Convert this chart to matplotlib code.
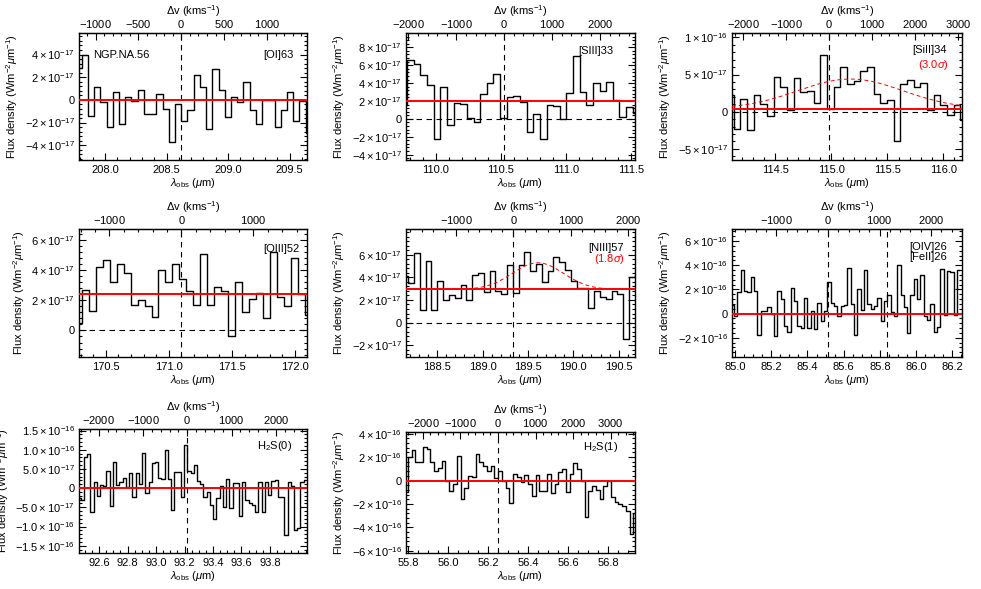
import numpy as np
import matplotlib.pyplot as plt
from matplotlib.ticker import FixedLocator, AutoMinorLocator, FuncFormatter, MultipleLocator

plt.rcParams['font.family'] = ['Liberation Sans', 'DejaVu Sans']
plt.rcParams['mathtext.fontset'] = 'custom'
plt.rcParams['mathtext.rm'] = 'Liberation Sans'
plt.rcParams['mathtext.it'] = 'Liberation Sans:italic'
plt.rcParams['mathtext.bf'] = 'Liberation Sans:bold'
plt.rcParams['font.size'] = 8

C_KMS = 299792.458

# --- espectros (flujo en 1e-17 o 1e-16 W m^-2 um^-1), rejilla regular en lambda ---
oi63_flux = np.array([2.8, 4.0, -1.4, 1.1, -0.2, -2.4, 0.7, -2.1, 0.3, -0.1, 0.9, -1.2, -1.2,
                      0.5, -0.8, -3.7, -0.4, -1.9, -0.9, 2.2, 1.1, -2.6, 2.7, 0.9, -1.5, 0.3,
                      -0.2, 1.6, -0.9, -2.1, 0.0, 0.0, -2.4, -0.9, 0.7, -1.9, -0.1, -2.9]) * 1e-17
oi63_start, oi63_step = 207.786, 0.0505

siii33_flux = np.array([1.5, 6.6, 6.1, 4.9, 3.8, -2.3, 3.6, -0.7, 1.8, 1.7, 0.1, -0.4, 2.8,
                        4.0, 5.0, 0.1, 2.4, 2.6, 1.9, -1.5, 0.5, -2.2, 1.5, 1.4, 0.0, 2.9,
                        7.0, 3.0, 1.6, 4.0, 3.1, 4.1, 2.1, 0.2, 1.3, 0.6]) * 1e-17
siii33_start, siii33_step = 109.756, 0.0510

siii34_flux = np.array([2.2, -2.3, 1.7, -2.5, 2.2, 1.0, -0.6, 4.7, 3.3, 0.2, 4.5, 2.6, 2.8,
                        1.2, 7.6, 0.3, 3.3, 6.0, 3.8, 4.2, 5.5, 6.0, 2.4, 1.2, 1.6, -4.0,
                        3.8, 4.3, 3.3, 3.9, 0.2, 2.2, 0.9, -0.5, 0.9, -1.1]) * 1e-17
siii34_start, siii34_step = 114.098, 0.0595

oiii52_flux = np.array([0.5, 2.7, 1.3, 4.2, 4.7, 3.2, 4.4, 3.8, 1.7, 2.0, 1.6, 0.9, 4.0,
                        3.2, 4.4, 3.4, 2.6, 1.7, 5.1, 1.7, 2.9, 2.6, -0.4, 3.2, 1.2, 2.1,
                        2.5, 0.8, 5.2, 2.2, 1.6, 4.8, 2.4, 1.0]) * 1e-17
oiii52_start, oiii52_step = 170.282, 0.0553

niii57_flux = np.array([4.1, 3.5, 6.2, 1.1, 5.5, 1.1, 3.7, 2.0, 2.4, 2.2, 3.3, 2.0, 4.2,
                        4.4, 2.7, 4.6, 2.8, 2.5, 5.1, 2.6, 5.1, 6.3, 4.6, 5.2, 3.6, 4.6,
                        5.8, 5.4, 4.7, 3.7, 3.1, 3.1, 1.3, 2.8, 2.3, 2.1, 2.8, 2.5, -1.5,
                        4.0, 4.2]) * 1e-17
niii57_start, niii57_step = 188.149, 0.0640

oiv26_flux = np.array([0.7, -0.2, 1.8, 3.6, 1.9, 1.8, 3.0, 1.9, -1.8, 0.2, 0.2, 0.5, 0.0,
                       -1.9, 1.9, 1.2, -1.0, -1.5, 2.1, 1.0, -1.0, -1.2, 1.3, -1.2, 0.2,
                       -1.3, 0.9, -0.6, 0.2, 2.6, 0.9, 0.6, -0.2, 0.6, 0.7, 3.8, 0.8, -1.8,
                       2.0, 0.3, 3.6, 0.8, 0.4, 0.6, 1.3, -0.6, 1.0, 1.5, 0.1, -0.2, 4.0,
                       1.5, 0.5, -1.6, 1.5, 2.9, 1.2, 3.2, -0.2, -0.5, 0.8, -1.5, -1.1,
                       3.7, -0.1, 3.5, 3.4, -0.1, 3.6]) * 1e-16
oiv26_start, oiv26_step = 84.985, 0.0184

h2s0_flux = np.array([-2.5, -3.2, 8.1, 9.0, -6.1, 1.7, -2.0, 0.9, 0.6, 4.5, -4.6, 6.8, 0.9,
                      1.6, 2.6, 0.4, 3.9, -2.4, 3.9, 1.0, 9.2, -1.3, 1.5, 6.5, 6.7, 2.6,
                      2.4, 10.0, 2.4, -5.7, 4.1, 4.1, -2.2, 11.3, 4.4, 3.9, 5.9, 1.9, 1.0,
                      -2.4, -0.9, -4.4, -8.1, -2.6, 0.6, -5.0, 2.4, -5.2, 1.3, 1.3, -7.2,
                      1.5, -3.2, -3.9, -4.4, -6.1, 1.5, -6.1, 1.7, -1.7, 1.9, 2.2, -2.2,
                      -2.2, -12.2, 1.7, 0.6, -10.9, -10.5, 1.7, 2.2]) * 1e-17
h2s0_start, h2s0_step = 92.459, 0.0227

h2s1_flux = np.array([-1.0, 2.0, 2.6, 1.6, 1.6, 2.9, 2.7, 1.6, 0.8, 1.1, 1.7, 0.0, -0.9,
                      -0.3, 2.1, -1.6, -0.6, 0.4, 0.3, 2.3, 1.6, 1.2, 0.8, 1.2, 0.2, 0.8,
                      0.0, -0.6, -1.9, 0.6, 0.3, -0.1, 0.5, -0.3, -1.3, 0.5, -0.9, -0.9,
                      0.6, -1.1, -0.3, 0.7, 1.0, -1.0, 0.6, 1.5, 1.0, 0.0, -3.1, -0.9,
                      -0.5, -0.8, -1.6, -0.5, 0.0, -1.4, -1.8, -2.0, -2.2, -2.6, -4.6,
                      -2.8]) * 1e-16
h2s1_start, h2s1_step = 55.790, 0.0188

# continuo ajustado (linea roja) y lambda esperada de cada linea (z ~ 2.30)
continua = [0.0, 2.0e-17, 0.4e-17, 2.43e-17, 2.94e-17, 0.0, 0.0, 0.0]
lam_esperada = [208.62, 110.528, 114.98, 171.10, 189.34, 85.513, 93.219, 56.25]
lam_feii26 = 85.837

# ajustes gaussianos (centro, amplitud, sigma) para las detecciones marginales
fit_siii34 = (115.17, 4.0e-17, 0.47)
fit_niii57 = (189.61, 2.36e-17, 0.28)

etiquetas = ['[OI]63', '[SIII]33', '[SiII]34', '[OIII]52', '[NIII]57',
             '[OIV]26\n[FeII]26', r'H$_2$S(0)', r'H$_2$S(1)']


def sci_formatter(dec):
    def f(v, pos):
        if abs(v) < 1e-30:
            return '0'
        e = int(np.floor(np.log10(abs(v)) + 1e-9))
        m = v / 10.0 ** e
        return r'$%s\times10^{%d}$' % (f'{m:.{dec}f}', e)
    return FuncFormatter(f)


def panel(fig, rect, start, step, flux, lam0, cont, xlim, ylim, xticks, yticks, vticks,
          vminor, xminor=5, ydec=0, zero_line=False, fit=None, extra_v=()):
    ax = fig.add_axes(rect)
    wave = start + step * np.arange(len(flux))
    ax.step(wave, flux, where='mid', color='black', lw=1.0, zorder=2)
    ax.axhline(cont, color='red', lw=1.4, zorder=3)
    if zero_line:
        ax.axhline(0.0, color='black', lw=0.8, ls=(0, (5, 4)), zorder=1)
    for lv in (lam0,) + tuple(extra_v):
        ax.axvline(lv, color='black', lw=0.8, ls=(0, (5, 4)), zorder=1)
    if fit is not None:
        xx = np.linspace(xlim[0], xlim[1], 300)
        c, a, s = fit
        ax.plot(xx, cont + a * np.exp(-0.5 * ((xx - c) / s) ** 2), color='red',
                lw=0.7, ls=(0, (4, 3)), zorder=3)
    ax.set_xlim(*xlim)
    ax.set_ylim(*ylim)
    ax.xaxis.set_major_locator(FixedLocator(xticks))
    ax.xaxis.set_major_formatter(FuncFormatter(lambda v, p: f'{v:.1f}'))
    ax.xaxis.set_minor_locator(AutoMinorLocator(xminor))
    ax.yaxis.set_major_locator(FixedLocator(yticks))
    ax.yaxis.set_major_formatter(sci_formatter(ydec))
    ax.yaxis.set_minor_locator(AutoMinorLocator(5))
    ax.tick_params(which='both', direction='in', right=True, top=False, width=0.8)
    ax.tick_params(which='major', length=5)
    ax.tick_params(which='minor', length=2.5)
    ax.tick_params(axis='y', which='major', pad=3)
    for sp in ax.spines.values():
        sp.set_linewidth(1.0)
    ax.set_xlabel(r'$\lambda_{\rm obs}$ ($\mu$m)', labelpad=1)
    ax.set_ylabel(r'Flux density (Wm$^{-2}$$\mu$m$^{-1}$)', labelpad=3)

    sec = ax.secondary_xaxis('top', functions=(lambda x: C_KMS * (x - lam0) / lam0,
                                               lambda v: lam0 * (1.0 + v / C_KMS)))
    sec.xaxis.set_major_locator(FixedLocator(vticks))
    sec.xaxis.set_major_formatter(FuncFormatter(lambda v, p: r'$%d$' % int(round(v))))
    sec.xaxis.set_minor_locator(MultipleLocator(vminor))
    sec.tick_params(which='both', direction='in', width=0.8, pad=2)
    sec.tick_params(which='major', length=5)
    sec.tick_params(which='minor', length=2.5)
    sec.set_xlabel(r'$\Delta$v (kms$^{-1}$)', labelpad=2)
    return ax


fig = plt.figure(figsize=(9.81, 5.89), dpi=100)
H, W = 589.0, 981.0


def rect(left, top, right, bottom):
    return [left / W, 1 - bottom / H, (right - left) / W, (bottom - top) / H]


e17 = 1e-17
e16 = 1e-16

ax1 = panel(fig, rect(79, 33, 307, 160), oi63_start, oi63_step, oi63_flux, lam_esperada[0],
            continua[0], (207.79, 209.64), (-5.3e-17, 5.9e-17), [208.0, 208.5, 209.0, 209.5],
            [-4 * e17, -2 * e17, 0, 2 * e17, 4 * e17], [-1000, -500, 0, 500, 1000], 100)
ax1.text(0.06, 0.83, 'NGP.NA.56', transform=ax1.transAxes, ha='left', va='center')
ax1.text(0.94, 0.83, etiquetas[0], transform=ax1.transAxes, ha='right', va='center')

ax2 = panel(fig, rect(406, 33, 635, 160), siii33_start, siii33_step, siii33_flux, lam_esperada[1],
            continua[1], (109.772, 111.533), (-4.6e-17, 9.6e-17), [110.0, 110.5, 111.0, 111.5],
            [-4 * e17, -2 * e17, 0, 2 * e17, 4 * e17, 6 * e17, 8 * e17],
            [-2000, -1000, 0, 1000, 2000, 3000], 200, zero_line=True)
ax2.text(0.905, 0.855, etiquetas[1], transform=ax2.transAxes, ha='right', va='center')

ax3 = panel(fig, rect(732, 33, 962, 160), siii34_start, siii34_step, siii34_flux, lam_esperada[2],
            continua[2], (114.113, 116.167), (-6.5e-17, 10.6e-17), [114.5, 115.0, 115.5, 116.0],
            [-5 * e17, 0, 5 * e17, 1 * e16], [-2000, -1000, 0, 1000, 2000, 3000], 200,
            zero_line=True, fit=fit_siii34)
ax3.text(0.935, 0.87, etiquetas[2], transform=ax3.transAxes, ha='right', va='center')
ax3.text(0.875, 0.75, r'(3.0$\sigma$)', transform=ax3.transAxes, ha='center', va='center',
         color='red')

ax4 = panel(fig, rect(79, 229, 307, 357), oiii52_start, oiii52_step, oiii52_flux, lam_esperada[3],
            continua[3], (170.288, 172.095), (-1.76e-17, 6.73e-17), [170.5, 171.0, 171.5, 172.0],
            [0, 2 * e17, 4 * e17, 6 * e17], [-1000, 0, 1000], 200, zero_line=True)
ax4.text(0.965, 0.845, etiquetas[3], transform=ax4.transAxes, ha='right', va='center')

ax5 = panel(fig, rect(406, 229, 635, 357), niii57_start, niii57_step, niii57_flux, lam_esperada[4],
            continua[4], (188.156, 190.68), (-3.06e-17, 8.3e-17),
            [188.5, 189.0, 189.5, 190.0, 190.5],
            [-2 * e17, 0, 2 * e17, 4 * e17, 6 * e17], [-1000, 0, 1000, 2000], 200,
            zero_line=True, fit=fit_niii57)
ax5.text(0.95, 0.85, etiquetas[4], transform=ax5.transAxes, ha='right', va='center')
ax5.text(0.89, 0.765, r'(1.8$\sigma$)', transform=ax5.transAxes, ha='center', va='center',
         color='red')

ax6 = panel(fig, rect(732, 229, 962, 357), oiv26_start, oiv26_step, oiv26_flux, lam_esperada[5],
            continua[5], (84.983, 86.254), (-3.6e-16, 7.0e-16),
            [85.0, 85.2, 85.4, 85.6, 85.8, 86.0, 86.2],
            [-2 * e16, 0, 2 * e16, 4 * e16, 6 * e16], [-1000, 0, 1000, 2000], 200,
            xminor=4, extra_v=(lam_feii26,))
ax6.text(0.935, 0.82, etiquetas[5], transform=ax6.transAxes, ha='right', va='center',
         linespacing=0.95)

ax7 = panel(fig, rect(79, 429, 307, 553), h2s0_start, h2s0_step, h2s0_flux, lam_esperada[6],
            continua[6], (92.459, 94.06), (-1.69e-16, 1.54e-16),
            [92.6, 92.8, 93.0, 93.2, 93.4, 93.6, 93.8],
            [-1.5 * e16, -1 * e16, -5 * e17, 0, 5 * e17, 1 * e16, 1.5 * e16],
            [-2000, -1000, 0, 1000, 2000], 200, xminor=4, ydec=1)
ax7.text(0.935, 0.865, etiquetas[6], transform=ax7.transAxes, ha='right', va='center')

ax8 = panel(fig, rect(406, 432, 635, 553), h2s1_start, h2s1_step, h2s1_flux, lam_esperada[7],
            continua[7], (55.79, 56.935), (-6.2e-16, 4.15e-16),
            [55.8, 56.0, 56.2, 56.4, 56.6, 56.8],
            [-6 * e16, -4 * e16, -2 * e16, 0, 2 * e16, 4 * e16],
            [-2000, -1000, 0, 1000, 2000, 3000], 200, xminor=4)
ax8.text(0.925, 0.88, etiquetas[7], transform=ax8.transAxes, ha='right', va='center')

fig.savefig('out.png', dpi=100)
